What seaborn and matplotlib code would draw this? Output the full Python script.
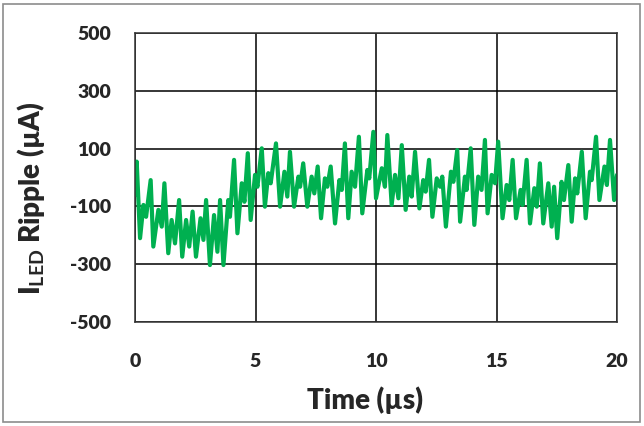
import numpy as np
import pandas as pd
import matplotlib
matplotlib.use("Agg")
import matplotlib.pyplot as plt
import seaborn as sns

# turning points of the ripple trace
time_us = [
    0.00, 0.07, 0.21, 0.35, 0.46, 0.65, 0.76, 0.97, 1.11, 1.22, 1.38, 1.52, 1.66, 1.83,
    1.96, 2.12, 2.25, 2.39, 2.53, 2.72, 2.84, 2.95, 3.11, 3.28, 3.42, 3.53, 3.67, 3.87,
    3.94, 4.11, 4.25, 4.43, 4.54, 4.68, 4.80, 4.98, 5.08, 5.26, 5.39, 5.53, 5.63, 5.85,
    6.02, 6.20, 6.32, 6.43, 6.60, 6.78, 6.85, 6.98, 7.15, 7.33, 7.44, 7.58, 7.72, 7.88,
    7.98, 8.12, 8.30, 8.48, 8.58, 8.71, 8.85, 8.99, 9.13, 9.29, 9.43, 9.64, 9.72, 9.89,
    10.00, 10.24, 10.37, 10.47, 10.65, 10.79, 10.93, 11.07, 11.23, 11.38, 11.48, 11.62,
    11.80, 11.96, 12.06, 12.20, 12.34, 12.52, 12.66, 12.75, 12.90, 13.11, 13.21, 13.37,
    13.49, 13.69, 13.76, 13.93, 14.08, 14.24, 14.38, 14.52, 14.63, 14.80, 14.94, 15.07,
    15.25, 15.42, 15.53, 15.67, 15.81, 16.00, 16.08, 16.25, 16.39, 16.57, 16.67, 16.80,
    16.94, 17.15, 17.29, 17.39, 17.52, 17.70, 17.80, 17.98, 18.12, 18.26, 18.35, 18.54,
    18.70, 18.88, 18.95, 19.13, 19.27, 19.48, 19.58, 19.71, 19.88, 20.00,
]
ripple_ua = [
    -60, 55, -210, -95, -136, -9, -239, -112, -170, -20, -262, -147, -228, -78,
    -274, -147, -239, -118, -274, -141, -216, -78, -303, -130, -257, -78, -303, -78,
    -136, 61, -193, -20, -84, 84, -147, 9, -32, 101, -101, 15, -20, 118,
    -101, 20, -66, 89, -101, 3, -32, 49, -101, 3, -55, 38, -141, -3,
    -32, 38, -159, -9, -43, 118, -141, 20, -32, 141, -124, 26, -3, 158,
    -72, 32, -32, 147, -95, 9, -72, 112, -112, 3, -66, 89,
    -107, -9, -49, 61, -136, -3, -32, 3, -170, 20, -15, 95,
    -153, 3, -43, 101, -164, 3, -43, 130, -124, 9, -20, 124,
    -141, -26, -78, 61, -141, -43, -95, 61, -159, -37, -101, 49,
    -159, -20, -170, -32, -210, -15, -78, 43, -153, -3, -55, 89,
    -141, 20, -9, 141, -78, 38, -26, 130, -78, 9,
]

x_ticks = [0, 5, 10, 15, 20]
y_ticks = [-500, -300, -100, 100, 300, 500]

df = pd.DataFrame({"t": time_us, "i": ripple_ua})

sns.set_style("white")
plt.rcParams["font.family"] = ["Lato", "DejaVu Sans"]
plt.rcParams["font.weight"] = "bold"
plt.rcParams["mathtext.fontset"] = "custom"
plt.rcParams["mathtext.bf"] = "Lato:bold"
plt.rcParams["mathtext.rm"] = "Lato:bold"

fig = plt.figure(figsize=(6.44, 4.26), dpi=100)
ax = fig.add_axes([135 / 644, 1 - 322 / 426, 482 / 644, 289 / 426])

sns.lineplot(data=df, x="t", y="i", color="#00B050", linewidth=3.0, ax=ax)

ax.set_xlim(0, 20)
ax.set_ylim(-500, 500)
ax.set_xticks(x_ticks)
ax.set_yticks(y_ticks)
ax.set_xticklabels([str(v) for v in x_ticks], fontsize=14, fontweight="heavy")
ax.set_yticklabels([str(v) for v in y_ticks], fontsize=14, fontweight="heavy")
ax.tick_params(axis="both", length=0)
ax.tick_params(axis="x", pad=22)
ax.tick_params(axis="y", pad=17)
ax.grid(True, color="black", linewidth=1.1)
for s in ax.spines.values():
    s.set_color("#333333")
    s.set_linewidth(1.1)

ax.set_xlabel("Time (µs)", fontsize=20, fontweight="heavy")
ax.set_ylabel(r"I$_{\mathbf{LED}}$ Ripple (µA)", fontsize=20, fontweight="heavy")
ax.xaxis.set_label_coords((365 - 135) / 482, -(386 - 322) / 289)
ax.yaxis.set_label_coords(-(135 - 47) / 482, (322 - 198) / 289)

# grey frame round the whole picture
fig.patches.append(plt.Rectangle((3 / 644, 4 / 426), 637 / 644, 418 / 426,
                                 transform=fig.transFigure, fill=False,
                                 edgecolor="#8c8c8c", linewidth=1.2))

fig.savefig("out.png", dpi=100)
